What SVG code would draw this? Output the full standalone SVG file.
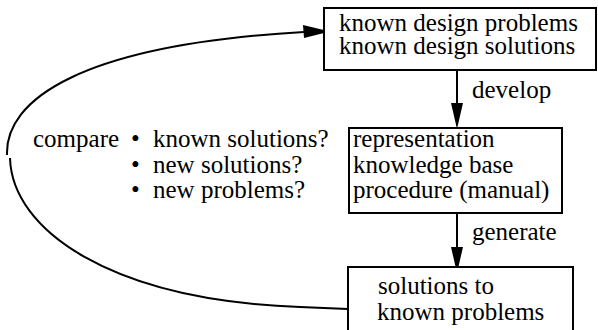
<svg xmlns="http://www.w3.org/2000/svg" width="598" height="330" viewBox="0 0 598 330">
<style>
text{font-family:"Liberation Serif","Times New Roman","DejaVu Serif",serif;font-size:25px;fill:#000}
.box{fill:#fff;stroke:#000;stroke-width:2}
.edge{fill:none;stroke:#000;stroke-width:2}
.head{fill:#000;stroke:none}
</style>
<rect width="598" height="330" fill="#fff"/>
<g id="connectors">
<path class="edge" d="M457,70 L457,104"/>
<polygon class="head" points="451,103 463,103 457,129"/>
<path class="edge" d="M457,213 L457,248"/>
<polygon class="head" points="451,247 463,247 457,273"/>
<path class="edge" d="M348,309 L300,307 C110,300 12,230 10,158"/>
<path class="edge" d="M7,155 C5,100 80,45 304,32"/>
<polygon class="head" points="303,25 330,31.5 304,38"/>
</g>
<g id="known">
<rect class="box" x="324" y="8" width="272" height="62"/>
<text x="339" y="31" font-family="Liberation Serif, serif">known design problems</text>
<text x="339" y="54" font-family="Liberation Serif, serif">known design solutions</text>
</g>
<g id="procedure">
<rect class="box" x="349" y="128" width="213" height="85"/>
<text x="353" y="147">representation</text>
<text x="353" y="173">knowledge base</text>
<text x="353" y="198">procedure (manual)</text>
</g>
<g id="solutions">
<rect class="box" x="348" y="267" width="225" height="70"/>
<text x="378" y="294">solutions to</text>
<text x="377" y="320">known problems</text>
</g>
<g id="labels">
<text x="472" y="98">develop</text>
<text x="472" y="240">generate</text>
<text x="33" y="147">compare</text>
<text x="131" y="147">•</text>
<text x="153" y="147">known solutions?</text>
<text x="131" y="173">•</text>
<text x="153" y="173">new solutions?</text>
<text x="131" y="198">•</text>
<text x="153" y="198">new problems?</text>
</g>
</svg>
